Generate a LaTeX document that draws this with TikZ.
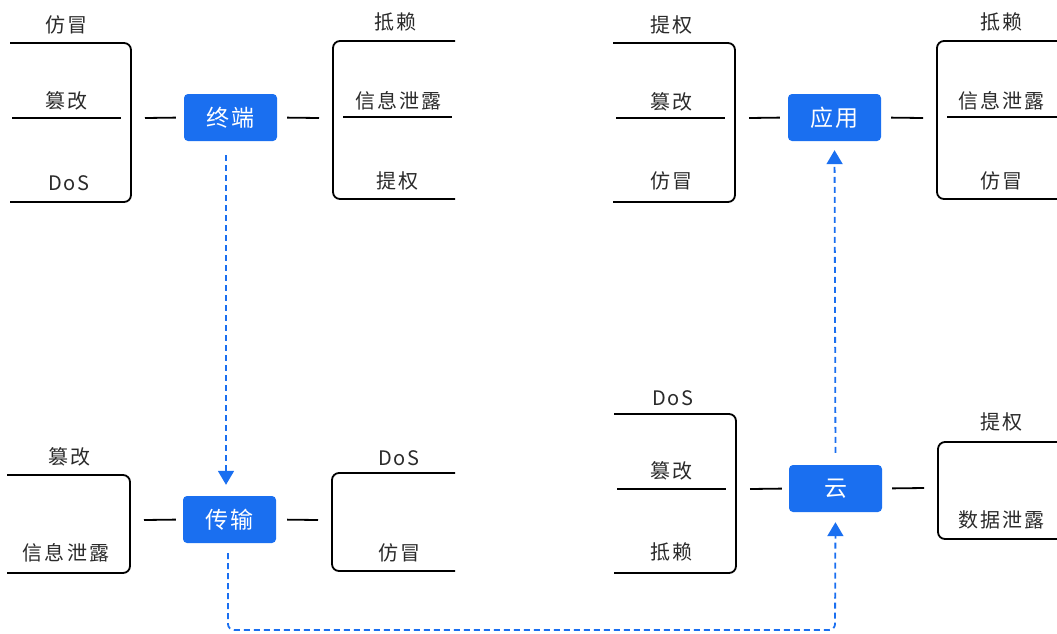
\documentclass[tikz,border=0pt]{standalone}
\usepackage{fontspec}
\newfontfamily\cjk[LetterSpace=10]{Noto Sans CJK SC}
\usepackage{tikz}
\usetikzlibrary{arrows.meta}
\definecolor{boxblue}{HTML}{1A6FF0}
\definecolor{labelgrey}{HTML}{2A2A2A}
\tikzset{
  threat/.style={text=labelgrey,font=\cjk\fontsize{20}{20}\selectfont,inner sep=0pt},
  layerbox/.style={fill=boxblue,rounded corners=4pt,minimum width=93pt,minimum height=47pt,
    text=white,font=\cjk\fontsize{23}{23}\selectfont,inner sep=0pt},
  bracket/.style={line width=1.8pt,rounded corners=7pt},
  link/.style={line width=1.8pt},
  flow/.style={boxblue,line width=1.8pt,dash pattern=on 6pt off 4pt,rounded corners=6pt,
    -{Triangle[width=16pt,length=14pt]}}
}

\begin{document}
\begin{tikzpicture}[x=1pt,y=-1pt]
\useasboundingbox (0,0) rectangle (1057,633);
% layer boxes
\node[layerbox] (term) at (230.5,117.5) {终端};
\node[layerbox] (app) at (834.5,117.5) {应用};
\node[layerbox] (trans) at (229.5,519.5) {传输};
\node[layerbox] (cloud) at (835.5,488.5) {云};
%
% terminal
\draw[bracket] (10,43) -- (131,43) -- (131,202) -- (10,202);
\draw[link] (12,118) -- (121,118);
\draw[bracket] (455,41) -- (333,41) -- (333,199) -- (455,199);
\draw[link] (343,117) -- (452,117);
\node[threat] (t1) at (66,25) {仿冒};
\node[threat] (t2) at (66,101) {篡改};
\node[threat] (t3) at (69,183) {DoS};
\node[threat] (t4) at (395,22) {抵赖};
\node[threat] (t5) at (398,101) {信息泄露};
\node[threat] (t6) at (397,181) {提权};
\coordinate (TL) at (145,118);
\coordinate (TR) at (319,118);
\draw[link,shorten >=8pt] (TL) -- (term.west);
\draw[link,shorten >=10pt] (TR) -- (term.east);
%
% application
\draw[bracket] (613,43) -- (735,43) -- (735,202) -- (613,202);
\draw[link] (616,118) -- (725,118);
\draw[bracket] (1057,41) -- (937,41) -- (937,199) -- (1057,199);
\draw[link] (947,117) -- (1057,117);
\node[threat] (a1) at (671,25) {提权};
\node[threat] (a2) at (671,102) {篡改};
\node[threat] (a3) at (671,181) {仿冒};
\node[threat] (a4) at (1001,22) {抵赖};
\node[threat] (a5) at (1001,101) {信息泄露};
\node[threat] (a6) at (1001,181) {仿冒};
\coordinate (AL) at (749,118);
\coordinate (AR) at (923,118);
\draw[link,shorten >=8pt] (AL) -- (app.west);
\draw[link,shorten >=10pt] (AR) -- (app.east);
%
% transport
\draw[bracket] (7,475) -- (130,475) -- (130,573) -- (7,573);
\draw[bracket] (455,473) -- (332,473) -- (332,571) -- (455,571);
\node[threat] (r1) at (69,457) {篡改};
\node[threat] (r2) at (66,553) {信息泄露};
\node[threat] (r3) at (399,458) {DoS};
\node[threat] (r4) at (399,553) {仿冒};
\coordinate (RL) at (144,520);
\coordinate (RR) at (318,520);
\draw[link,shorten >=7pt] (RL) -- (trans.west);
\draw[link,shorten >=11pt] (RR) -- (trans.east);
%
% cloud
\draw[bracket] (614,414) -- (736,414) -- (736,573) -- (614,573);
\draw[link] (617,489) -- (726,489);
\draw[bracket] (1057,442) -- (938,442) -- (938,539) -- (1057,539);
\node[threat] (c1) at (673,398) {DoS};
\node[threat] (c2) at (671,471) {篡改};
\node[threat] (c3) at (671,552) {抵赖};
\node[threat] (c4) at (1001,422) {提权};
\node[threat] (c5) at (1001,520) {数据泄露};
\coordinate (CL) at (750,489);
\coordinate (CR) at (924,488);
\draw[link,shorten >=7pt] (CL) -- (cloud.west);
\draw[link,shorten >=10pt] (CR) -- (cloud.east);
%
% data flow
\draw[flow,shorten <=14pt,shorten >=11pt] ([xshift=-4.5pt]term.south) -- ([xshift=-3.5pt]trans.north);
\draw[flow,shorten <=10pt,shorten >=10pt] ([xshift=-1.5pt]trans.south) |- (835,630) -- (cloud.south);
\draw[flow,shorten <=12pt,shorten >=9pt] (cloud.north) -- (app.south);
\end{tikzpicture}
\end{document}
